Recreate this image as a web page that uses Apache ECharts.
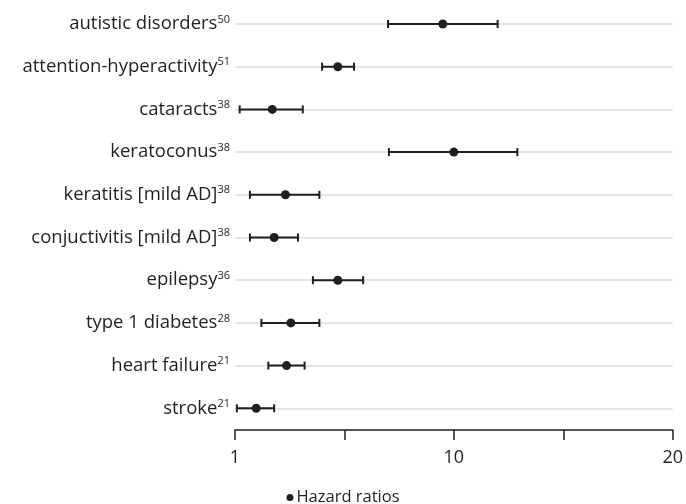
<!DOCTYPE html>
<html><head><meta charset="utf-8">
<script src="https://cdn.jsdelivr.net/npm/echarts@6/dist/echarts.min.js"></script>
<style>html,body{margin:0;padding:0;background:#fff}#c{width:686px;height:504px}</style>
</head><body><div id="c"></div>
<script>
// Data (top to bottom)
const conditions = ['autistic disorders','attention-hyperactivity','cataracts','keratoconus','keratitis [mild AD]','conjuctivitis [mild AD]','epilepsy','type 1 diabetes','heart failure','stroke'];
const refs = ['50','51','38','38','38','38','36','28','21','21'];
const hazardRatio = [8.9, 2.95, 1.48, 10.0, 1.70, 1.51, 2.95, 1.80, 1.72, 1.25];
const ciLower = [5.0, 2.5, 1.05, 5.05, 1.17, 1.17, 2.27, 1.32, 1.42, 1.02];
const ciUpper = [12.0, 3.5, 2.04, 12.9, 2.43, 1.94, 3.85, 2.43, 2.08, 1.51];
const tickLabels = {0: '1', 1: '10', 2: '20'};

// Reference axis: log scale from 1 to 10, linear from 10 to 20
function scalePos(v) { return v <= 10 ? Math.log10(v) : v / 10; }

const FONT = 'Open Sans';
const ink = '#231f20';
const chart = echarts.init(document.getElementById('c'), null, {renderer: 'canvas'});
const catLabels = conditions.map((c, i) => c + '|' + refs[i]);

chart.setOption({
  animation: false,
  textStyle: {fontFamily: FONT},
  grid: {left: 235, right: 11, top: 24, bottom: 95.7, containLabel: false},
  legend: {
    data: ['Hazard ratios'], bottom: -7, left: 'center',
    icon: 'circle', itemWidth: 7, itemHeight: 7, itemGap: 5,
    textStyle: {fontFamily: FONT, fontSize: 16.5, color: ink, padding: [0,0,0,-2]}
  },
  xAxis: {
    type: 'value', min: 0, max: 2, interval: 0.5, offset: 21.7,
    axisLine: {show: true, lineStyle: {color: ink, width: 1.5}},
    axisTick: {show: true, length: 10, lineStyle: {color: ink, width: 1.5}},
    splitLine: {show: false},
    axisLabel: {
      fontFamily: FONT, fontSize: 18, color: ink, margin: 19,
      formatter: v => tickLabels[v] !== undefined ? tickLabels[v] : ''
    }
  },
  yAxis: {
    type: 'category', inverse: true, boundaryGap: false, data: catLabels,
    axisLine: {show: false}, axisTick: {show: false},
    splitLine: {show: true, interval: 0, lineStyle: {color: '#dcdcdc', width: 1.5}},
    axisLabel: {
      interval: 0, margin: 5,
      formatter: v => { const p = v.split('|'); return '{n|' + p[0] + '}{s|' + p[1] + '}'; },
      rich: {
        n: {fontFamily: FONT, fontSize: 18.5, color: ink},
        s: {fontFamily: FONT, fontSize: 11, color: ink, verticalAlign: 'top', padding: [0,0,9,0]}
      }
    }
  },
  series: [
    {
      type: 'custom', name: 'ci', silent: true,
      data: conditions.map((c, i) => [scalePos(ciLower[i]), scalePos(ciUpper[i]), i]),
      encode: {x: [0, 1], y: 2},
      renderItem: function (params, api) {
        const a = api.coord([api.value(0), api.value(2)]);
        const b = api.coord([api.value(1), api.value(2)]);
        const h = 4;
        const st = {stroke: ink, lineWidth: 2};
        return {type: 'group', children: [
          {type: 'line', shape: {x1: a[0], y1: a[1], x2: b[0], y2: b[1]}, style: st},
          {type: 'line', shape: {x1: a[0], y1: a[1]-h, x2: a[0], y2: a[1]+h}, style: st},
          {type: 'line', shape: {x1: b[0], y1: b[1]-h, x2: b[0], y2: b[1]+h}, style: st}
        ]};
      },
      z: 2
    },
    {
      type: 'scatter', name: 'Hazard ratios',
      data: conditions.map((c, i) => [scalePos(hazardRatio[i]), i]),
      symbol: 'circle', symbolSize: 9,
      itemStyle: {color: ink, opacity: 1}, z: 3
    }
  ]
});
</script></body></html>
